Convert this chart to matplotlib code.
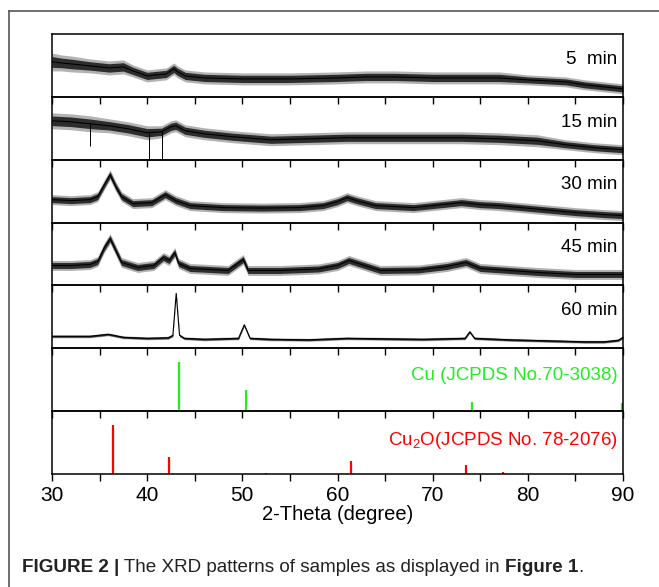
import numpy as np
import matplotlib
matplotlib.use("Agg")
import matplotlib.pyplot as plt
from matplotlib.lines import Line2D

plt.rcParams['font.family'] = ['Liberation Sans', 'DejaVu Sans']
plt.rcParams['mathtext.fontset'] = 'custom'
plt.rcParams['mathtext.rm'] = 'Liberation Sans'
plt.rcParams['mathtext.default'] = 'rm'

# noisy scans: x (2-theta), middle of noise band, half width of band
t5_x = [30, 31, 32, 34, 36, 37.5, 38.5, 40, 41, 42, 42.8, 43.2, 44, 46, 50, 55, 60, 63, 66, 70, 74, 77, 80, 84, 86, 88, 90]
t5_mid = [35, 34, 33, 31, 29, 30, 26, 21, 22, 23, 28, 25, 21, 19, 18, 18, 19, 20, 20, 19, 19, 19, 17, 15, 12, 10, 8]
t5_spr = [9, 8, 8, 7, 7, 7, 6, 6, 6, 6, 6, 6, 6, 6, 6, 6, 6, 6, 6, 6, 6, 6, 5, 5, 5, 5, 5]

t15_x = [30, 32, 34, 36, 38, 40, 41.5, 42.5, 43, 44, 46, 49, 53, 57, 61, 65, 69, 73, 77, 81, 84, 87, 90]
t15_mid = [39, 38, 36, 34, 31, 27, 28, 33, 34, 29, 26, 23, 20, 21, 22, 22, 22, 22, 21, 19, 15, 12, 10]
t15_spr = [8, 8, 8, 7, 7, 7, 6, 6, 6, 6, 6, 6, 6, 6, 6, 6, 6, 6, 6, 6, 5, 5, 5]
spk15_x = [34.0, 40.2, 41.6]
spk15_lo = [14, 0, 0]

t30_x = [30, 32, 34, 34.8, 35.5, 36.1, 36.7, 37.3, 38.5, 40.5, 41.9, 43, 44.5, 48, 52, 56, 58.5, 60, 61, 62, 64, 68, 72, 73, 75, 77, 81, 85, 88, 90]
t30_mid = [23, 22, 23, 26, 38, 48, 36, 26, 19, 20, 28, 22, 17, 15, 14.5, 15, 17, 21, 25, 22, 17, 15, 19, 20, 18, 17, 13.5, 10, 8, 7]
t30_spr = [5] * len(t30_x)

t45_x = [30, 32, 34, 34.8, 35.5, 36.1, 36.7, 37.3, 39, 40.7, 41.7, 42.3, 42.9, 43.3, 44.5, 48.5, 50.1, 50.6, 54, 58, 60, 61.2, 62.5, 64.5, 68.5, 71.5, 73.5, 75, 78, 81, 85, 90]
t45_mid = [20, 20, 21, 24, 38, 47, 35, 23, 18, 20, 28, 25, 33, 22, 17, 15, 26, 15, 15, 16.5, 20, 25, 21, 15, 15.5, 19, 23, 17, 15, 13, 11, 11]
t45_spr = [5] * len(t45_x)

t60_x = [30, 34, 35.9, 37.5, 40, 42.2, 42.7, 43.05, 43.4, 43.9, 46, 49.6, 50.2, 50.8, 53, 57, 61, 65, 69, 73.4, 73.9, 74.4, 78, 82, 86, 88, 89.5, 90]
t60_mid = [12, 12, 14, 11, 10, 10.5, 13, 55, 13, 10, 9, 10, 23.5, 10, 9, 8.5, 10, 9.5, 9, 10, 16.5, 10, 8.5, 7.5, 6.5, 6.5, 8, 11]
t60_spr = [1.5] * len(t60_x)

cu_pos = [43.3, 50.4, 74.1, 89.9]
cu_int = [49.5, 21.5, 9, 8]
cu2o_pos = [36.4, 42.3, 52.5, 61.4, 73.5, 77.4]
cu2o_int = [48.8, 16.8, 0.7, 12.8, 9.4, 2.4]

scans = [
    ("5  min", t5_x, t5_mid, t5_spr),
    ("15 min", t15_x, t15_mid, t15_spr),
    ("30 min", t30_x, t30_mid, t30_spr),
    ("45 min", t45_x, t45_mid, t45_spr),
    ("60 min", t60_x, t60_mid, t60_spr),
]

fig = plt.figure(figsize=(6.59, 5.87), dpi=100)
left, right, top, bottom = 52 / 659, 623 / 659, 1 - 34 / 587, 1 - 474 / 587
h = (top - bottom) / 7
axes = []
for i in range(7):
    ax = fig.add_axes([left, top - (i + 1) * h, right - left, h])
    ax.set_facecolor('none')
    ax.set_xlim(30, 90)
    ax.set_ylim(0, 63)
    ax.set_yticks([])
    ax.set_xticks(np.arange(30, 91, 10))
    ax.set_xticks(np.arange(35, 90, 10), minor=True)
    ax.tick_params(axis='x', which='both', direction='out', length=5, width=1, labelsize=15)
    if i < 6:
        ax.tick_params(axis='x', labelbottom=False)
    for s in ax.spines.values():
        s.set_linewidth(1.1)
    axes.append(ax)

for ax, (lab, x, mid, spr) in zip(axes[:5], scans):
    x = np.array(x); mid = np.array(mid); spr = np.array(spr)
    ax.fill_between(x, mid - spr, mid + spr, color='black', alpha=0.3, lw=0)
    ax.fill_between(x, mid - spr * 0.6, mid + spr * 0.6, color='black', alpha=0.75, lw=0)
    ax.plot(x, mid, color='black', lw=0.8)
    ax.text(0.99, 0.6, lab, transform=ax.transAxes, ha='right', va='center', fontsize=13.5)

axes[1].vlines(spk15_x, spk15_lo, [np.interp(v, t15_x, t15_mid) for v in spk15_x], color='black', lw=0.7)

axes[5].vlines(cu_pos, 0, cu_int, color='#22ee22', lw=1.6)
axes[5].text(0.99, 0.56, "Cu (JCPDS No.70-3038)", transform=axes[5].transAxes,
             ha='right', va='center', fontsize=13.5, color='#22ee22')
axes[6].vlines(cu2o_pos, 0, cu2o_int, color='red', lw=1.6)
axes[6].text(0.99, 0.54, "Cu$_2$O(JCPDS No. 78-2076)", transform=axes[6].transAxes,
             ha='right', va='center', fontsize=13.5, color='red')
axes[6].set_xlabel("2-Theta (degree)", fontsize=14.5, labelpad=0)

# frame lines of the figure panel
fig.add_artist(Line2D([9 / 659, 1], [1 - 11 / 587] * 2, color='#555555', lw=1.2, transform=fig.transFigure))
fig.add_artist(Line2D([9 / 659] * 2, [0, 1 - 11 / 587], color='#555555', lw=1.2, transform=fig.transFigure))

# caption with bold parts
r = fig.canvas.get_renderer()
xpos = 22 / 659
ypos = 1 - 568 / 587
for txt, wt in [("FIGURE 2 |", 'bold'), (" The XRD patterns of samples as displayed in ", 'normal'),
                ("Figure 1", 'bold'), (".", 'normal')]:
    t = fig.text(xpos, ypos, txt, fontsize=13.6, fontweight=wt, color='#222222', va='center', ha='left')
    bb = t.get_window_extent(renderer=r)
    xpos += bb.width / fig.bbox.width

fig.savefig("out.png", dpi=100)
